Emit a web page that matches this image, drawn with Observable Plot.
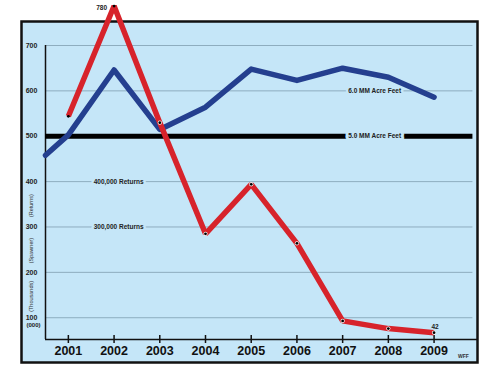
<!DOCTYPE html>
<html>
<head>
<meta charset="utf-8">
<script src="https://cdn.jsdelivr.net/npm/d3@7"></script>
<script src="https://cdn.jsdelivr.net/npm/@observablehq/plot@0.6"></script>
<style>
  html, body { margin: 0; padding: 0; background: #fff; }
  svg { display: block; }
</style>
</head>
<body>
<div id="chart"></div>
<script>
// ---- data ----
const years = [2001, 2002, 2003, 2004, 2005, 2006, 2007, 2008, 2009];
const waterYears = [2000.5, 2001, 2002, 2003, 2004, 2005, 2006, 2007, 2008, 2009];
const waterValues = [458, 503, 646, 515, 564, 648, 623, 650, 630, 586]; // acre feet x 100k
const returnYears = [2001, 2002, 2003, 2004, 2005, 2006, 2007, 2008, 2009];
const returnValues = [544, 787, 530, 285, 394, 264, 93, 76, 67]; // spawner returns (000)
const yTicks = [700, 600, 500, 400, 300, 200, 100];
const gridTicks = [700, 600, 400, 300, 200, 100];
const thresholdValue = [500];
const refLabels = ["400,000 Returns", "300,000 Returns"];
const refLabelValues = [400, 300];
const axisTitles = ["(Returns)", "(Spawner)", "(Thousands)"];

const water = waterYears.map((x, i) => ({x, y: waterValues[i]}));
const returns = returnYears.map((x, i) => ({x, y: returnValues[i]}));

const xStart = 2000.5, xEnd = 2009.95, yBottom = 52, yTop = 700;
const bg = "#c5e6f8";
const red = "#d7232b";
const blue = "#243f8f";
const font = "Liberation Sans, Arial, Helvetica, sans-serif";

const chart = Plot.plot({
  width: 500,
  height: 386,
  marginLeft: 21,
  marginRight: 23,
  marginTop: 21,
  marginBottom: 24,
  style: {fontFamily: font, background: "#fff", overflow: "visible"},
  x: {type: "linear", domain: [xStart, xEnd], range: [45, 477], axis: null},
  y: {type: "linear", domain: [yBottom, yTop], range: [339, 45], axis: null},
  marks: [
    Plot.frame({fill: bg, stroke: "#111", strokeWidth: 2.5}),
    // grid lines
    Plot.ruleY(gridTicks, {y: d => d, x1: xStart, x2: 2009.85, stroke: "#8eadbf", strokeWidth: 1}),
    // axes
    Plot.ruleX([xStart], {x: d => d, y1: yBottom, y2: yTop, stroke: "#111", strokeWidth: 1.5}),
    Plot.ruleY([yBottom], {y: d => d, x1: xStart, x2: xEnd, stroke: "#111", strokeWidth: 1.5}),
    Plot.ruleX(years, {x: d => d, y1: yBottom, y2: yBottom, insetTop: -4, insetBottom: -4, stroke: "#111", strokeWidth: 1.5}),
    // threshold line
    Plot.ruleY(thresholdValue, {y: d => d, x1: xStart, x2: 2009.85, stroke: "#000", strokeWidth: 5}),
    // reference labels
    Plot.text(refLabels, {x: 2002.1, y: (d, i) => refLabelValues[i], text: d => d, fontSize: 6.5, fontWeight: "bold", fill: "#222", stroke: bg, strokeWidth: 5}),
    Plot.text(["6.0 MM Acre Feet"], {x: 2007.7, y: 600, text: d => d, fontSize: 6.5, fontWeight: "bold", fill: "#222", stroke: bg, strokeWidth: 5}),
    Plot.text(["5.0 MM Acre Feet"], {x: 2007.7, y: 500, text: d => d, fontSize: 6.5, fontWeight: "bold", fill: "#222", stroke: bg, strokeWidth: 6}),
    // water line
    Plot.line(water, {x: "x", y: "y", stroke: blue, strokeWidth: 5.5, strokeLinejoin: "round", strokeLinecap: "round"}),
    // returns line
    Plot.line(returns, {x: "x", y: "y", stroke: red, strokeWidth: 5.5, strokeLinejoin: "miter", strokeLinecap: "butt"}),
    Plot.dot(returns.slice(2), {x: "x", y: "y", r: 2.1, fill: "#fff", stroke: "none"}),
    Plot.dot(returns, {x: "x", y: "y", r: 1.4, fill: "#000", stroke: "none"}),
    // point labels
    Plot.text(["780"], {x: 2002, y: returnValues[1], text: d => d, textAnchor: "end", dx: -7, dy: 2, fontSize: 6.5, fontWeight: "bold", fill: "#222"}),
    Plot.text(["42"], {x: 2009, y: returnValues[8], text: d => d, dx: 1, dy: -6, fontSize: 6.5, fontWeight: "bold", fill: "#222"}),
    // y tick labels
    Plot.text(yTicks, {y: d => d, frameAnchor: "left", textAnchor: "middle", dx: 10, text: d => String(d), fontSize: 7, fontWeight: "bold", fill: "#222"}),
    Plot.text(["(000)"], {y: 83, frameAnchor: "left", textAnchor: "middle", dx: 12, text: d => d, fontSize: 6, fontWeight: "bold", fill: "#222"}),
    Plot.text(axisTitles, {y: [347, 248, 147], frameAnchor: "left", textAnchor: "middle", dx: 10, rotate: -90, text: d => d, fontSize: 5.5, fill: "#333"}),
    // x tick labels
    Plot.text(years, {x: d => d, frameAnchor: "bottom", dy: -8, text: d => String(d), fontSize: 12.5, fontWeight: "bold", fill: "#111"}),
    Plot.text(["WFF"], {frameAnchor: "bottom-right", textAnchor: "middle", dx: -14, dy: -5, text: d => d, fontSize: 5, fontWeight: "bold", fill: "#333"})
  ]
});
document.getElementById("chart").appendChild(chart);
</script>
</body>
</html>
